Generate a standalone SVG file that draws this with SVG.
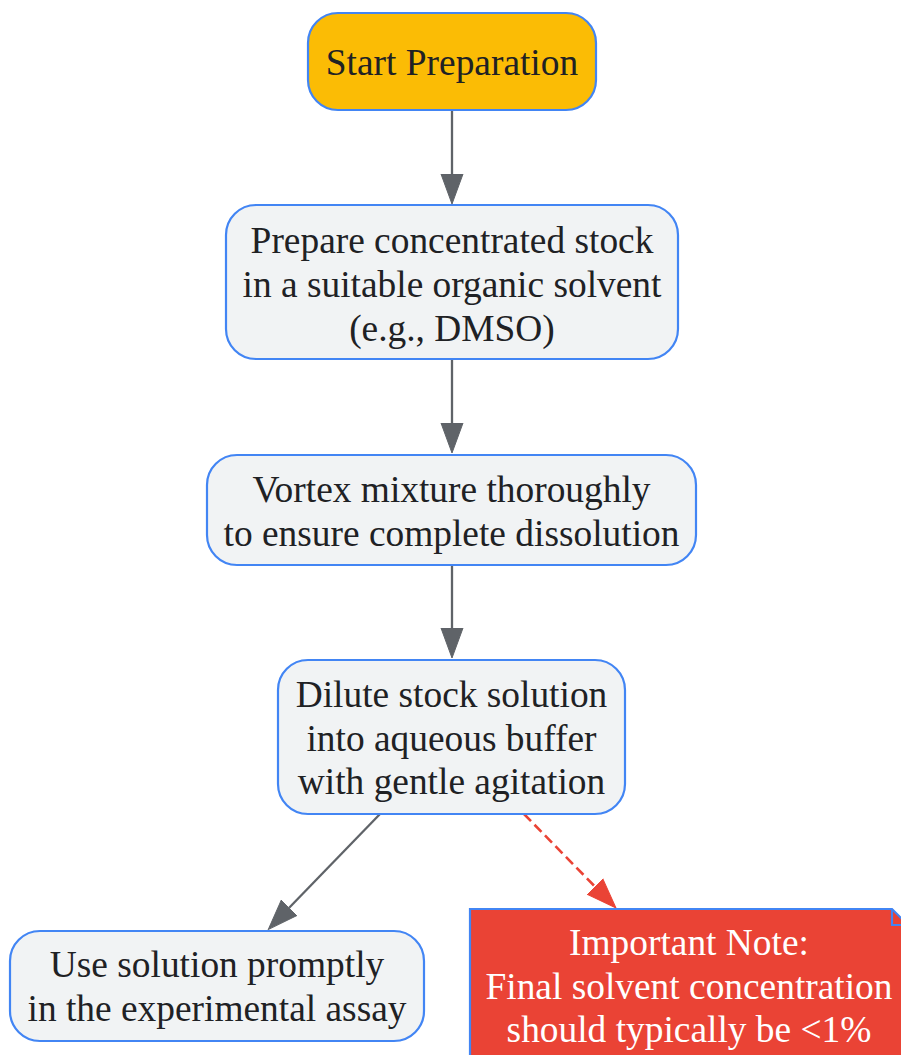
<svg xmlns="http://www.w3.org/2000/svg" width="901" height="1055" viewBox="0 0 901 1055">
<style>
.node rect, .node polygon { stroke: #4285f4; stroke-width: 2.2; }
.step rect { fill: #f1f3f4; }
.start rect { fill: #fbbc05; }
.note polygon { fill: #ea4335; }
.fold { fill: none; stroke: #4285f4; stroke-width: 2.2; }
text { font-family: "Liberation Serif", "Times New Roman", serif; font-size: 37.4px; text-anchor: middle; fill: #202124; }
.note text { fill: #ffffff; }
.edge { fill: none; stroke: #5f6368; stroke-width: 2.3; }
.edge.red { stroke: #ea4335; stroke-width: 2.6; stroke-dasharray: 10 5; }
</style>
<defs>
<marker id="ag" markerUnits="userSpaceOnUse" viewBox="0 -12 31 24" markerWidth="31" markerHeight="24" refX="0" refY="0" orient="auto">
<path d="M0,-11 L30,0 L0,11 Z" fill="#5f6368" stroke="#5f6368" stroke-width="1"/>
</marker>
<marker id="ar" markerUnits="userSpaceOnUse" viewBox="0 -12 31 24" markerWidth="31" markerHeight="24" refX="0" refY="0" orient="auto">
<path d="M0,-11 L30,0 L0,11 Z" fill="#ea4335" stroke="#ea4335" stroke-width="1"/>
</marker>
</defs>
<g id="connectors">
<path class="edge" d="M452,110 L452,174" marker-end="url(#ag)"/>
<path class="edge" d="M452,359 L452,423" marker-end="url(#ag)"/>
<path class="edge" d="M452,565 L452,628" marker-end="url(#ag)"/>
<path class="edge" d="M380,814 L289.2,907.8" marker-end="url(#ag)"/>
<path class="edge red" d="M524,814 L595,886.6" marker-end="url(#ar)"/>
</g>
<g id="start" class="node start">
<rect x="308" y="13" width="288" height="97" rx="30" ry="30"/>
<text x="452" y="75">Start Preparation</text>
</g>
<g id="prepare" class="node step">
<rect x="226" y="205" width="452" height="154" rx="30" ry="30"/>
<text x="452" y="253">Prepare concentrated stock</text>
<text x="452" y="297">in a suitable organic solvent</text>
<text x="452" y="341">(e.g., DMSO)</text>
</g>
<g id="vortex" class="node step">
<rect x="207" y="455" width="489" height="110" rx="30" ry="30"/>
<text x="451.5" y="502">Vortex mixture thoroughly</text>
<text x="451.5" y="546">to ensure complete dissolution</text>
</g>
<g id="dilute" class="node step">
<rect x="278" y="660" width="347" height="154" rx="30" ry="30"/>
<text x="451.5" y="707">Dilute stock solution</text>
<text x="451.5" y="750.5">into aqueous buffer</text>
<text x="451.5" y="794">with gentle agitation</text>
</g>
<g id="use" class="node step">
<rect x="10" y="931" width="414" height="110" rx="30" ry="30"/>
<text x="217" y="977">Use solution promptly</text>
<text x="217" y="1021">in the experimental assay</text>
</g>
<g id="note" class="node note">
<polygon points="470,909 892,909 908,925 908,1070 470,1070"/>
<path class="fold" d="M892,909 L892,925 L908,925"/>
<text x="689" y="955">Important Note:</text>
<text x="689" y="998.5">Final solvent concentration</text>
<text x="689" y="1042">should typically be &lt;1%</text>
</g>
</svg>
